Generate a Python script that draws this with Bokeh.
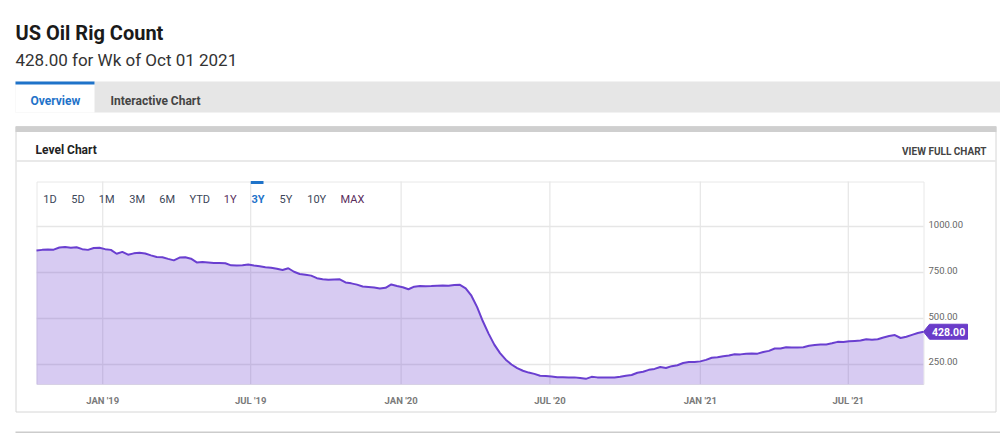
import numpy as np
import pandas as pd
from bokeh.plotting import figure
from bokeh.models import Range1d, ColumnDataSource
from bokeh.core.properties import value
from bokeh.embed import file_html
from bokeh.resources import INLINE

# ---------------- data ----------------
week_dates = pd.date_range("2018-10-12", "2021-10-01", freq="7D")
rig_count = [
    # 2018 (Oct 12 .. Dec 28)
    869, 873, 875, 874, 886, 888, 885, 887, 877, 873, 883, 885,
    # 2019
    877, 873, 852, 862, 847, 854, 857, 853, 843, 834, 833, 824, 816,
    831, 833, 825, 805, 807, 805, 802, 802, 800, 789, 788, 789, 793,
    788, 784, 779, 776, 770, 764, 773, 754, 742, 738, 733, 719, 713,
    710, 712, 713, 696, 691, 684, 674, 671, 668, 663, 667, 685, 677,
    # 2020
    670, 659, 673, 676, 675, 676, 678, 679, 678, 682, 683, 664, 624,
    562, 485, 418, 358, 312, 276, 250, 230, 216, 206, 199, 189, 188,
    185, 181, 181, 180, 180, 176, 172, 183, 180, 180, 180, 179, 183,
    189, 193, 205, 211, 221, 226, 236, 231, 241, 246, 258, 263, 264,
    # 2021 (Jan 1 .. Oct 1)
    267, 275, 287, 289, 295, 299, 306, 305, 309, 310, 309, 318, 324,
    337, 337, 344, 343, 342, 344, 352, 356, 359, 359, 365, 373, 372,
    376, 378, 380, 387, 385, 387, 397, 405, 410, 394, 401, 411, 421,
    428,
]

x_tick_dates = pd.to_datetime(["2019-01-01", "2019-07-01", "2020-01-01",
                               "2020-07-01", "2021-01-01", "2021-07-01"])
x_tick_labels = ["JAN '19", "JUL '19", "JAN '20", "JUL '20", "JAN '21", "JUL '21"]
y_ticks = [250, 500, 750, 1000]
y_tick_labels = ["250.00", "500.00", "750.00", "1000.00"]
y_axis_min, y_axis_max = 141.3, 1244.6

range_buttons = ["1D", "5D", "1M", "3M", "6M", "YTD", "1Y", "3Y", "5Y", "10Y", "MAX"]
range_button_x = [42.7, 70.7, 98.3, 128.7, 158.7, 189, 223.3, 251, 279, 306.7, 340]
range_button_colors = ["#3c4658"] * 6 + ["#5a2d5c", "#1f73c9", "#3c4658", "#3c4658", "#5a2d5c"]
range_button_styles = ["normal"] * 7 + ["bold"] + ["normal"] * 3

title_text = "US Oil Rig Count"
last_value = rig_count[-1]
last_date = week_dates[-1]
subtitle_text = f"{last_value:.2f} for Wk of {last_date:%b %d %Y}"

# ---------------- layout (page pixels) ----------------
W, H = 1000, 433
CL, CR, CT, CB = 36, 923, 181, 384   # chart area

t_ms = week_dates.values.astype("datetime64[ms]").astype("int64")
ms_per_px = (t_ms[-1] - t_ms[0]) / (CR - CL)
date_range = Range1d(start=t_ms[0] - CL * ms_per_px, end=t_ms[-1] + (W - CR) * ms_per_px)
u_per_px = (y_axis_max - y_axis_min) / (CB - CT)
val_range = Range1d(start=y_axis_min - (H - CB) * u_per_px, end=y_axis_max + CT * u_per_px)

p = figure(width=W, height=H, x_range=Range1d(0, W), y_range=Range1d(H, 0),
           x_axis_location=None, y_axis_location=None, toolbar_location=None,
           output_backend="svg", min_border=0, outline_line_color=None,
           background_fill_color="white", border_fill_color="white")
p.grid.visible = False
p.extra_x_ranges = {"dates": date_range}
p.extra_y_ranges = {"vals": val_range}

FONT = value("Roboto")

# title & subtitle
p.text(x=[15], y=[32], text=[title_text], text_font=FONT, text_font_size="20px",
       text_font_style="bold", text_color="#1a1a1a", text_baseline="alphabetic")
p.text(x=[15], y=[59], text=[subtitle_text], text_font=FONT, text_font_size="17px",
       text_color="#333333", text_baseline="alphabetic")

# tab bar
p.quad(left=[15], right=[W], top=[81], bottom=[112], fill_color="#e6e6e6", line_color=None)
p.quad(left=[15], right=[94], top=[81], bottom=[112], fill_color="white", line_color=None)
p.quad(left=[15], right=[94], top=[81], bottom=[84], fill_color="#1f73c9", line_color=None)
p.text(x=[30, 110], y=[100.5, 100.5], text=["Overview", "Interactive Chart"], text_font=FONT,
       text_font_size="12px", text_font_style="bold", text_color=["#1f73c9", "#444444"],
       text_baseline="alphabetic")

# panel
p.quad(left=[15.5], right=[995.5], top=[126], bottom=[411.5], fill_color="white",
       line_color="#d6d6d6", line_width=1)
p.quad(left=[15], right=[996], top=[126], bottom=[131.5], fill_color="#cfcfcf", line_color=None)
p.segment(x0=[16], x1=[995], y0=[160.5], y1=[160.5], line_color="#e2e2e2", line_width=1.5)
p.text(x=[35], y=[149.5], text=["Level Chart"], text_font=FONT, text_font_size="12px",
       text_font_style="bold", text_color="#222222", text_baseline="alphabetic")
p.text(x=[986], y=[151], text=["VIEW FULL CHART"], text_font=FONT, text_font_size="10px",
       text_font_style="bold", text_color="#444444", text_align="right", text_baseline="alphabetic")

# bottom separator
p.quad(left=[15], right=[W], top=[431], bottom=[433], fill_color="#cccccc", line_color=None)

# chart frame
p.quad(left=[CL + 0.5], right=[CR + 0.5], top=[CT + 0.5], bottom=[CB], fill_color=None,
       line_color="#e8e8e8", line_width=1)

# grid lines
p.segment(x0=t_ms[[0] * len(y_ticks)], x1=t_ms[[-1] * len(y_ticks)], y0=y_ticks, y1=y_ticks,
          x_range_name="dates", y_range_name="vals", line_color="#e6e6e6", line_width=1.5)
p.segment(x0=x_tick_dates, x1=x_tick_dates, y0=[CT] * len(x_tick_dates), y1=[CB] * len(x_tick_dates),
          x_range_name="dates", line_color="#e6e6e6", line_width=1.2)

# range selector
p.quad(left=[250.3], right=[263], top=[180.5], bottom=[183.5], fill_color="#1f73c9", line_color=None)
btn_src = ColumnDataSource(dict(x=range_button_x, y=[199] * len(range_buttons), label=range_buttons,
                                color=range_button_colors, style=range_button_styles))
p.text(x="x", y="y", text="label", source=btn_src, text_font=FONT, text_font_size="11px",
       text_color="color", text_font_style="style", text_baseline="alphabetic")

# data area + line
src = ColumnDataSource(dict(date=week_dates, count=rig_count))
p.varea(x="date", y1=y_axis_min, y2="count", source=src, x_range_name="dates", y_range_name="vals",
        fill_color="#6a3fd0", fill_alpha=0.27)
p.line(x="date", y="count", source=src, x_range_name="dates", y_range_name="vals",
       line_color="#6a3fd0", line_width=2)

# axis labels
p.text(x=[CR + 5] * len(y_ticks), y=y_ticks, text=y_tick_labels, y_range_name="vals",
       text_font=FONT, text_font_size="9.5px", text_color="#666666", text_baseline="alphabetic",
       y_offset=-2.5)
p.text(x=x_tick_dates, y=[399.5] * len(x_tick_dates), text=x_tick_labels, x_range_name="dates",
       text_font=FONT, text_font_size="9.5px", text_font_style="bold", text_color="#7a7a7a",
       text_align="center", text_baseline="alphabetic")

# last value tag
h = 7.5 * u_per_px
p.patch(x=[CR, CR + 6, 967, 967, CR + 6],
        y=[last_value, last_value + h, last_value + h, last_value - h, last_value - h],
        y_range_name="vals", fill_color="#6a3cc9", line_color="#6a3cc9")
p.text(x=[CR + 8.5], y=[last_value], text=[f"{last_value:.2f}"], y_range_name="vals",
       text_font=FONT, text_font_size="10.5px", text_font_style="bold", text_color="white",
       text_baseline="middle")

open("out.html", "w").write(file_html(p, INLINE))
